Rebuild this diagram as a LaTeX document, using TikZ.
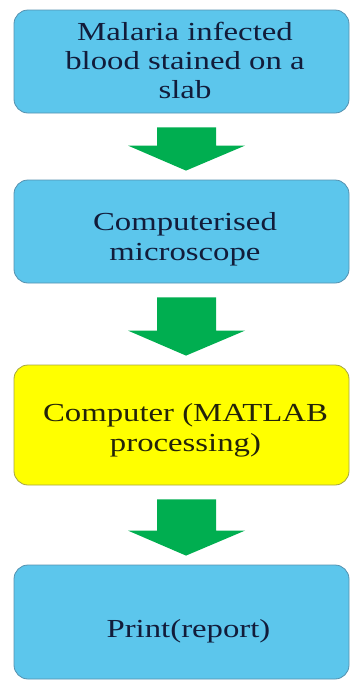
\documentclass[tikz,border=0pt]{standalone}
\usepackage{fontspec}
\setmainfont[FakeStretch=1.26]{Liberation Serif}
\usetikzlibrary{calc}
\definecolor{boxblue}{RGB}{92,198,236}
\definecolor{boxblueedge}{RGB}{85,145,175}
\definecolor{boxyellow}{RGB}{255,255,0}
\definecolor{boxyellowedge}{RGB}{165,165,70}
\definecolor{flowgreen}{RGB}{0,174,80}
\definecolor{inkblue}{RGB}{18,28,58}
\definecolor{inkolive}{RGB}{35,35,10}
\tikzset{
  x=1pt, y=-1pt,
  stagebox/.style={draw=boxblueedge, line width=0.8pt, fill=boxblue,
    rounded corners=14pt, minimum width=335pt, align=center,
    text=inkblue, font=\fontsize{26}{30}\selectfont, inner sep=0pt},
  procbox/.style={stagebox, fill=boxyellow, draw=boxyellowedge, text=inkolive},
  blockarrow/.style={fill=flowgreen, draw=none}
}
% centred text block, nudged right by #1 and lowered by #2 (zero-size box)
\newcommand{\boxtext}[3]{\hspace*{#1}\raisebox{-#2}[0pt][0pt]{\begin{tabular}{@{}c@{}}#3\end{tabular}}}
% green block arrow filling the gap between two stacked boxes
\newcommand{\flowarrow}[2]{%
  \fill[blockarrow] let \p1=(#1.south), \p2=(#2.north) in
    (157pt,\y1-14pt) -- (216pt,\y1-14pt) -- (216pt,\y2+34pt) -- (245pt,\y2+34pt)
    -- (186pt,\y2+9pt) -- (128pt,\y2+34pt) -- (157pt,\y2+34pt) -- cycle;}
\begin{document}
\begin{tikzpicture}
\useasboundingbox (0,0) rectangle (350,681);
\node[stagebox, minimum height=103pt] (slide) at (181.5,61.5)
  {\boxtext{7pt}{8.5pt}{Malaria infected\\[-1pt]blood stained on a\\[-1pt]slab}};
\node[stagebox, minimum height=103pt] (scope) at (181.5,231.5)
  {\boxtext{7pt}{14.5pt}{Computerised\\microscope}};
\node[procbox, minimum height=120pt] (matlab) at (181.5,425)
  {\boxtext{8pt}{12pt}{Computer (MATLAB\\processing)}};
\node[stagebox, minimum height=114pt] (report) at (181.5,622)
  {\boxtext{14pt}{16pt}{Print(report)}};
\flowarrow{slide}{scope}
\flowarrow{scope}{matlab}
\flowarrow{matlab}{report}
\end{tikzpicture}
\end{document}
